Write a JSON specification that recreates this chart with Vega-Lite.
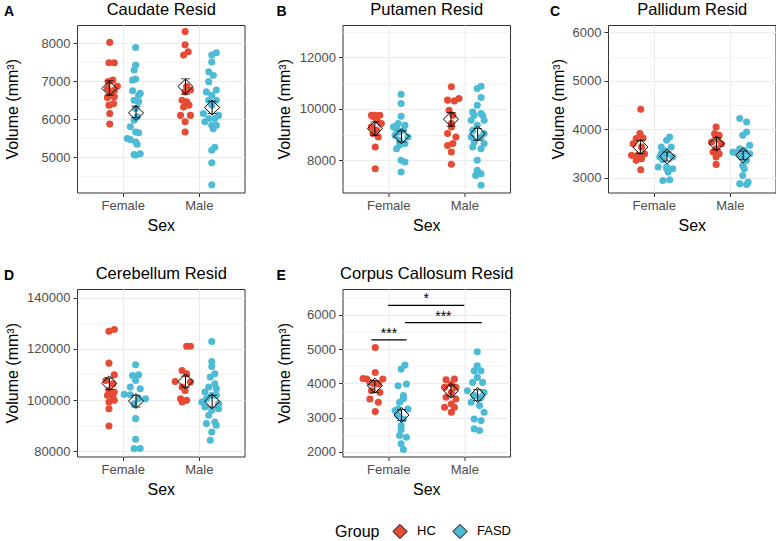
{
"$schema": "https://vega.github.io/schema/vega-lite/v6.json",
"background": "white",
"padding": {"left": 3, "top": 0, "right": 0, "bottom": 0},
"datasets": {
"pts": [
{"p":"A","g":"HC","x":0.83,"v":8025},{"p":"A","g":"HC","x":0.82,"v":7490},{"p":"A","g":"HC","x":0.89,"v":7490},{"p":"A","g":"HC","x":0.87,"v":7030},{"p":"A","g":"HC","x":0.81,"v":6990},{"p":"A","g":"HC","x":0.93,"v":6870},{"p":"A","g":"HC","x":0.80,"v":6810},{"p":"A","g":"HC","x":0.89,"v":6760},{"p":"A","g":"HC","x":0.84,"v":6700},{"p":"A","g":"HC","x":0.80,"v":6570},{"p":"A","g":"HC","x":0.89,"v":6590},{"p":"A","g":"HC","x":0.82,"v":6370},{"p":"A","g":"HC","x":0.88,"v":6410},{"p":"A","g":"HC","x":0.83,"v":6150},{"p":"A","g":"HC","x":0.83,"v":5870},
{"p":"A","g":"FASD","x":1.17,"v":7890},{"p":"A","g":"FASD","x":1.17,"v":7430},{"p":"A","g":"FASD","x":1.15,"v":7295},{"p":"A","g":"FASD","x":1.17,"v":7060},{"p":"A","g":"FASD","x":1.13,"v":7030},{"p":"A","g":"FASD","x":1.13,"v":6750},{"p":"A","g":"FASD","x":1.21,"v":6630},{"p":"A","g":"FASD","x":1.23,"v":6680},{"p":"A","g":"FASD","x":1.15,"v":6500},{"p":"A","g":"FASD","x":1.21,"v":6460},{"p":"A","g":"FASD","x":1.17,"v":6280},{"p":"A","g":"FASD","x":1.19,"v":6060},{"p":"A","g":"FASD","x":1.15,"v":5970},{"p":"A","g":"FASD","x":1.10,"v":5800},{"p":"A","g":"FASD","x":1.17,"v":5660},{"p":"A","g":"FASD","x":1.21,"v":5640},{"p":"A","g":"FASD","x":1.06,"v":5490},{"p":"A","g":"FASD","x":1.10,"v":5460},{"p":"A","g":"FASD","x":1.17,"v":5400},{"p":"A","g":"FASD","x":1.19,"v":5340},{"p":"A","g":"FASD","x":1.15,"v":5070},{"p":"A","g":"FASD","x":1.23,"v":5090},{"p":"A","g":"FASD","x":1.17,"v":5050},
{"p":"A","g":"HC","x":1.82,"v":8310},{"p":"A","g":"HC","x":1.82,"v":7960},{"p":"A","g":"HC","x":1.86,"v":7780},{"p":"A","g":"HC","x":1.80,"v":7690},{"p":"A","g":"HC","x":1.84,"v":6860},{"p":"A","g":"HC","x":1.82,"v":6720},{"p":"A","g":"HC","x":1.89,"v":6770},{"p":"A","g":"HC","x":1.78,"v":6500},{"p":"A","g":"HC","x":1.84,"v":6460},{"p":"A","g":"HC","x":1.80,"v":6320},{"p":"A","g":"HC","x":1.87,"v":6370},{"p":"A","g":"HC","x":1.76,"v":6100},{"p":"A","g":"HC","x":1.89,"v":6100},{"p":"A","g":"HC","x":1.82,"v":5930},{"p":"A","g":"HC","x":1.82,"v":5660},
{"p":"A","g":"FASD","x":2.23,"v":7750},{"p":"A","g":"FASD","x":2.17,"v":7690},{"p":"A","g":"FASD","x":2.17,"v":7510},{"p":"A","g":"FASD","x":2.13,"v":7250},{"p":"A","g":"FASD","x":2.19,"v":7160},{"p":"A","g":"FASD","x":2.13,"v":6990},{"p":"A","g":"FASD","x":2.10,"v":6720},{"p":"A","g":"FASD","x":2.23,"v":6770},{"p":"A","g":"FASD","x":2.17,"v":6630},{"p":"A","g":"FASD","x":2.13,"v":6500},{"p":"A","g":"FASD","x":2.23,"v":6500},{"p":"A","g":"FASD","x":2.17,"v":6370},{"p":"A","g":"FASD","x":2.06,"v":6150},{"p":"A","g":"FASD","x":2.26,"v":6100},{"p":"A","g":"FASD","x":2.08,"v":5930},{"p":"A","g":"FASD","x":2.17,"v":5840},{"p":"A","g":"FASD","x":2.23,"v":5840},{"p":"A","g":"FASD","x":2.13,"v":6020},{"p":"A","g":"FASD","x":2.21,"v":6020},{"p":"A","g":"FASD","x":2.19,"v":5750},{"p":"A","g":"FASD","x":2.21,"v":5260},{"p":"A","g":"FASD","x":2.17,"v":5180},{"p":"A","g":"FASD","x":2.17,"v":4850},{"p":"A","g":"FASD","x":2.17,"v":4270},
{"p":"B","g":"HC","x":0.78,"v":9753},{"p":"B","g":"HC","x":0.83,"v":9753},{"p":"B","g":"HC","x":0.89,"v":9753},{"p":"B","g":"HC","x":0.80,"v":9700},{"p":"B","g":"HC","x":0.85,"v":9560},{"p":"B","g":"HC","x":0.91,"v":9430},{"p":"B","g":"HC","x":0.78,"v":9300},{"p":"B","g":"HC","x":0.85,"v":9170},{"p":"B","g":"HC","x":0.80,"v":9040},{"p":"B","g":"HC","x":0.87,"v":8910},{"p":"B","g":"HC","x":0.83,"v":8520},{"p":"B","g":"HC","x":0.83,"v":7675},
{"p":"B","g":"FASD","x":1.17,"v":10570},{"p":"B","g":"FASD","x":1.17,"v":10210},{"p":"B","g":"FASD","x":1.17,"v":9714},{"p":"B","g":"FASD","x":1.13,"v":9430},{"p":"B","g":"FASD","x":1.22,"v":9360},{"p":"B","g":"FASD","x":1.11,"v":9230},{"p":"B","g":"FASD","x":1.20,"v":9170},{"p":"B","g":"FASD","x":1.09,"v":8970},{"p":"B","g":"FASD","x":1.26,"v":8910},{"p":"B","g":"FASD","x":1.15,"v":8780},{"p":"B","g":"FASD","x":1.22,"v":8650},{"p":"B","g":"FASD","x":1.11,"v":8450},{"p":"B","g":"FASD","x":1.17,"v":8000},{"p":"B","g":"FASD","x":1.22,"v":7935},{"p":"B","g":"FASD","x":1.17,"v":7545},{"p":"B","g":"FASD","x":1.13,"v":9100},{"p":"B","g":"FASD","x":1.07,"v":9300},{"p":"B","g":"FASD","x":1.15,"v":8600},
{"p":"B","g":"HC","x":1.83,"v":10857},{"p":"B","g":"HC","x":1.78,"v":10340},{"p":"B","g":"HC","x":1.87,"v":10310},{"p":"B","g":"HC","x":1.93,"v":10400},{"p":"B","g":"HC","x":1.80,"v":9950},{"p":"B","g":"HC","x":1.85,"v":9750},{"p":"B","g":"HC","x":1.83,"v":9430},{"p":"B","g":"HC","x":1.83,"v":9300},{"p":"B","g":"HC","x":1.78,"v":9040},{"p":"B","g":"HC","x":1.89,"v":8910},{"p":"B","g":"HC","x":1.85,"v":8650},{"p":"B","g":"HC","x":1.78,"v":8580},{"p":"B","g":"HC","x":1.83,"v":8325},{"p":"B","g":"HC","x":1.83,"v":7845},
{"p":"B","g":"FASD","x":2.22,"v":10880},{"p":"B","g":"FASD","x":2.17,"v":10790},{"p":"B","g":"FASD","x":2.22,"v":10440},{"p":"B","g":"FASD","x":2.17,"v":10140},{"p":"B","g":"FASD","x":2.11,"v":9880},{"p":"B","g":"FASD","x":2.22,"v":9820},{"p":"B","g":"FASD","x":2.13,"v":9750},{"p":"B","g":"FASD","x":2.24,"v":9750},{"p":"B","g":"FASD","x":2.09,"v":9560},{"p":"B","g":"FASD","x":2.26,"v":9560},{"p":"B","g":"FASD","x":2.17,"v":9360},{"p":"B","g":"FASD","x":2.11,"v":9170},{"p":"B","g":"FASD","x":2.26,"v":9040},{"p":"B","g":"FASD","x":2.09,"v":8910},{"p":"B","g":"FASD","x":2.22,"v":8910},{"p":"B","g":"FASD","x":2.13,"v":8710},{"p":"B","g":"FASD","x":2.26,"v":8650},{"p":"B","g":"FASD","x":2.11,"v":8520},{"p":"B","g":"FASD","x":2.22,"v":8450},{"p":"B","g":"FASD","x":2.17,"v":8000},{"p":"B","g":"FASD","x":2.17,"v":7610},{"p":"B","g":"FASD","x":2.22,"v":7480},{"p":"B","g":"FASD","x":2.15,"v":7415},{"p":"B","g":"FASD","x":2.22,"v":7030},
{"p":"C","g":"HC","x":0.83,"v":4414},{"p":"C","g":"HC","x":0.82,"v":3910},{"p":"C","g":"HC","x":0.77,"v":3807},{"p":"C","g":"HC","x":0.86,"v":3820},{"p":"C","g":"HC","x":0.73,"v":3703},{"p":"C","g":"HC","x":0.84,"v":3634},{"p":"C","g":"HC","x":0.71,"v":3462},{"p":"C","g":"HC","x":0.79,"v":3462},{"p":"C","g":"HC","x":0.88,"v":3497},{"p":"C","g":"HC","x":0.77,"v":3359},{"p":"C","g":"HC","x":0.84,"v":3393},{"p":"C","g":"HC","x":0.83,"v":3166},
{"p":"C","g":"FASD","x":1.21,"v":3841},{"p":"C","g":"FASD","x":1.17,"v":3772},{"p":"C","g":"FASD","x":1.10,"v":3634},{"p":"C","g":"FASD","x":1.23,"v":3634},{"p":"C","g":"FASD","x":1.17,"v":3497},{"p":"C","g":"FASD","x":1.08,"v":3428},{"p":"C","g":"FASD","x":1.25,"v":3428},{"p":"C","g":"FASD","x":1.12,"v":3372},{"p":"C","g":"FASD","x":1.06,"v":3221},{"p":"C","g":"FASD","x":1.17,"v":3186},{"p":"C","g":"FASD","x":1.25,"v":3186},{"p":"C","g":"FASD","x":1.19,"v":3117},{"p":"C","g":"FASD","x":1.12,"v":2945},{"p":"C","g":"FASD","x":1.21,"v":2960},{"p":"C","g":"FASD","x":1.17,"v":3220},{"p":"C","g":"FASD","x":1.14,"v":3560},{"p":"C","g":"FASD","x":1.10,"v":3500},
{"p":"C","g":"HC","x":1.82,"v":4048},{"p":"C","g":"HC","x":1.80,"v":3910},{"p":"C","g":"HC","x":1.86,"v":3876},{"p":"C","g":"HC","x":1.76,"v":3738},{"p":"C","g":"HC","x":1.89,"v":3703},{"p":"C","g":"HC","x":1.82,"v":3600},{"p":"C","g":"HC","x":1.78,"v":3531},{"p":"C","g":"HC","x":1.86,"v":3497},{"p":"C","g":"HC","x":1.82,"v":3428},{"p":"C","g":"HC","x":1.82,"v":3276},{"p":"C","g":"HC","x":1.84,"v":3800},
{"p":"C","g":"FASD","x":2.13,"v":4221},{"p":"C","g":"FASD","x":2.22,"v":4152},{"p":"C","g":"FASD","x":2.22,"v":3945},{"p":"C","g":"FASD","x":2.17,"v":3876},{"p":"C","g":"FASD","x":2.26,"v":3669},{"p":"C","g":"FASD","x":2.13,"v":3600},{"p":"C","g":"FASD","x":2.04,"v":3531},{"p":"C","g":"FASD","x":2.26,"v":3497},{"p":"C","g":"FASD","x":2.13,"v":3462},{"p":"C","g":"FASD","x":2.17,"v":3428},{"p":"C","g":"FASD","x":2.22,"v":3359},{"p":"C","g":"FASD","x":2.17,"v":3255},{"p":"C","g":"FASD","x":2.19,"v":3186},{"p":"C","g":"FASD","x":2.17,"v":3048},{"p":"C","g":"FASD","x":2.13,"v":2876},{"p":"C","g":"FASD","x":2.22,"v":2862},{"p":"C","g":"FASD","x":2.24,"v":2910},{"p":"C","g":"FASD","x":2.09,"v":3520},{"p":"C","g":"FASD","x":2.19,"v":3560},
{"p":"D","g":"HC","x":0.82,"v":126890},{"p":"D","g":"HC","x":0.89,"v":127540},{"p":"D","g":"HC","x":0.82,"v":114420},{"p":"D","g":"HC","x":0.89,"v":109870},{"p":"D","g":"HC","x":0.78,"v":107660},{"p":"D","g":"HC","x":0.87,"v":106370},{"p":"D","g":"HC","x":0.82,"v":103770},{"p":"D","g":"HC","x":0.89,"v":103120},{"p":"D","g":"HC","x":0.80,"v":101820},{"p":"D","g":"HC","x":0.87,"v":101170},{"p":"D","g":"HC","x":0.82,"v":99220},{"p":"D","g":"HC","x":0.89,"v":99870},{"p":"D","g":"HC","x":0.82,"v":96620},{"p":"D","g":"HC","x":0.82,"v":89870},
{"p":"D","g":"FASD","x":1.17,"v":113770},{"p":"D","g":"FASD","x":1.13,"v":109610},{"p":"D","g":"FASD","x":1.21,"v":109870},{"p":"D","g":"FASD","x":1.17,"v":107660},{"p":"D","g":"FASD","x":1.10,"v":105070},{"p":"D","g":"FASD","x":1.23,"v":104420},{"p":"D","g":"FASD","x":1.02,"v":102210},{"p":"D","g":"FASD","x":1.10,"v":102080},{"p":"D","g":"FASD","x":1.21,"v":100520},{"p":"D","g":"FASD","x":1.30,"v":100520},{"p":"D","g":"FASD","x":1.15,"v":98570},{"p":"D","g":"FASD","x":1.17,"v":92730},{"p":"D","g":"FASD","x":1.17,"v":84670},{"p":"D","g":"FASD","x":1.15,"v":81030},{"p":"D","g":"FASD","x":1.23,"v":81030},
{"p":"D","g":"HC","x":1.84,"v":121040},{"p":"D","g":"HC","x":1.89,"v":121040},{"p":"D","g":"HC","x":1.78,"v":111560},{"p":"D","g":"HC","x":1.84,"v":110260},{"p":"D","g":"HC","x":1.69,"v":107270},{"p":"D","g":"HC","x":1.89,"v":107010},{"p":"D","g":"HC","x":1.78,"v":105070},{"p":"D","g":"HC","x":1.82,"v":103770},{"p":"D","g":"HC","x":1.76,"v":100520},{"p":"D","g":"HC","x":1.84,"v":99870},{"p":"D","g":"HC","x":1.78,"v":99220},
{"p":"D","g":"FASD","x":2.17,"v":122860},{"p":"D","g":"FASD","x":2.17,"v":115070},{"p":"D","g":"FASD","x":2.17,"v":113120},{"p":"D","g":"FASD","x":2.21,"v":110260},{"p":"D","g":"FASD","x":2.15,"v":108960},{"p":"D","g":"FASD","x":2.21,"v":106370},{"p":"D","g":"FASD","x":2.13,"v":105070},{"p":"D","g":"FASD","x":2.23,"v":104420},{"p":"D","g":"FASD","x":2.08,"v":103120},{"p":"D","g":"FASD","x":2.17,"v":101820},{"p":"D","g":"FASD","x":2.23,"v":101820},{"p":"D","g":"FASD","x":2.10,"v":100520},{"p":"D","g":"FASD","x":2.04,"v":99220},{"p":"D","g":"FASD","x":2.26,"v":98570},{"p":"D","g":"FASD","x":2.08,"v":97270},{"p":"D","g":"FASD","x":2.17,"v":95970},{"p":"D","g":"FASD","x":2.26,"v":96620},{"p":"D","g":"FASD","x":2.13,"v":94020},{"p":"D","g":"FASD","x":2.21,"v":91430},{"p":"D","g":"FASD","x":2.10,"v":90780},{"p":"D","g":"FASD","x":2.23,"v":90130},{"p":"D","g":"FASD","x":2.17,"v":87530},{"p":"D","g":"FASD","x":2.15,"v":84280},
{"p":"E","g":"HC","x":0.83,"v":5050},{"p":"E","g":"HC","x":0.83,"v":4320},{"p":"E","g":"HC","x":0.67,"v":4145},{"p":"E","g":"HC","x":0.93,"v":4126},{"p":"E","g":"HC","x":0.76,"v":4030},{"p":"E","g":"HC","x":0.87,"v":3980},{"p":"E","g":"HC","x":0.78,"v":3786},{"p":"E","g":"HC","x":0.89,"v":3738},{"p":"E","g":"HC","x":0.76,"v":3544},{"p":"E","g":"HC","x":0.87,"v":3447},{"p":"E","g":"HC","x":0.83,"v":3175},{"p":"E","g":"HC","x":0.72,"v":4130},{"p":"E","g":"HC","x":0.80,"v":4000},
{"p":"E","g":"FASD","x":1.22,"v":4534},{"p":"E","g":"FASD","x":1.17,"v":4417},{"p":"E","g":"FASD","x":1.24,"v":3980},{"p":"E","g":"FASD","x":1.13,"v":3932},{"p":"E","g":"FASD","x":1.20,"v":3641},{"p":"E","g":"FASD","x":1.15,"v":3447},{"p":"E","g":"FASD","x":1.13,"v":3252},{"p":"E","g":"FASD","x":1.26,"v":3252},{"p":"E","g":"FASD","x":1.20,"v":2961},{"p":"E","g":"FASD","x":1.17,"v":2767},{"p":"E","g":"FASD","x":1.15,"v":2476},{"p":"E","g":"FASD","x":1.24,"v":2427},{"p":"E","g":"FASD","x":1.17,"v":2233},{"p":"E","g":"FASD","x":1.20,"v":2068},{"p":"E","g":"FASD","x":1.13,"v":3058},{"p":"E","g":"FASD","x":1.09,"v":3204},{"p":"E","g":"FASD","x":1.20,"v":3550},{"p":"E","g":"FASD","x":1.17,"v":2650},
{"p":"E","g":"HC","x":1.76,"v":4107},{"p":"E","g":"HC","x":1.87,"v":4126},{"p":"E","g":"HC","x":1.83,"v":3980},{"p":"E","g":"HC","x":1.74,"v":3884},{"p":"E","g":"HC","x":1.89,"v":3884},{"p":"E","g":"HC","x":1.83,"v":3738},{"p":"E","g":"HC","x":1.76,"v":3592},{"p":"E","g":"HC","x":1.89,"v":3544},{"p":"E","g":"HC","x":1.83,"v":3398},{"p":"E","g":"HC","x":1.74,"v":3301},{"p":"E","g":"HC","x":1.83,"v":3155},{"p":"E","g":"HC","x":1.87,"v":3301},
{"p":"E","g":"FASD","x":2.17,"v":4922},{"p":"E","g":"FASD","x":2.17,"v":4515},{"p":"E","g":"FASD","x":2.13,"v":4369},{"p":"E","g":"FASD","x":2.22,"v":4369},{"p":"E","g":"FASD","x":2.17,"v":4175},{"p":"E","g":"FASD","x":2.11,"v":4029},{"p":"E","g":"FASD","x":2.24,"v":4029},{"p":"E","g":"FASD","x":2.04,"v":3786},{"p":"E","g":"FASD","x":2.26,"v":3738},{"p":"E","g":"FASD","x":2.13,"v":3641},{"p":"E","g":"FASD","x":2.22,"v":3592},{"p":"E","g":"FASD","x":2.09,"v":3447},{"p":"E","g":"FASD","x":2.20,"v":3350},{"p":"E","g":"FASD","x":2.26,"v":3155},{"p":"E","g":"FASD","x":2.13,"v":2961},{"p":"E","g":"FASD","x":2.22,"v":2913},{"p":"E","g":"FASD","x":2.13,"v":2670},{"p":"E","g":"FASD","x":2.20,"v":2621}
],
"sum": [
{"p":"A","g":"HC","x":0.825,"m":6810,"lo":6633,"hi":7012},{"p":"A","g":"FASD","x":1.175,"m":6165,"lo":6042,"hi":6342},{"p":"A","g":"HC","x":1.825,"m":6860,"lo":6660,"hi":7065},{"p":"A","g":"FASD","x":2.175,"m":6307,"lo":6148,"hi":6474},
{"p":"B","g":"HC","x":0.825,"m":9234,"lo":8974,"hi":9494},{"p":"B","g":"FASD","x":1.175,"m":8935,"lo":8714,"hi":9143},{"p":"B","g":"HC","x":1.825,"m":9600,"lo":9325,"hi":9857},{"p":"B","g":"FASD","x":2.175,"m":9040,"lo":8780,"hi":9234},
{"p":"C","g":"HC","x":0.825,"m":3634,"lo":3497,"hi":3772},{"p":"C","g":"FASD","x":1.175,"m":3441,"lo":3345,"hi":3531},{"p":"C","g":"HC","x":1.825,"m":3703,"lo":3579,"hi":3828},{"p":"C","g":"FASD","x":2.175,"m":3462,"lo":3372,"hi":3552},
{"p":"D","g":"HC","x":0.825,"m":106500,"lo":104160,"hi":108570},{"p":"D","g":"FASD","x":1.175,"m":99610,"lo":97270,"hi":101820},{"p":"D","g":"HC","x":1.825,"m":107270,"lo":105070,"hi":109350},{"p":"D","g":"FASD","x":2.175,"m":99480,"lo":97270,"hi":101820},
{"p":"E","g":"HC","x":0.825,"m":3932,"lo":3738,"hi":4078},{"p":"E","g":"FASD","x":1.175,"m":3078,"lo":2913,"hi":3233},{"p":"E","g":"HC","x":1.825,"m":3786,"lo":3621,"hi":3951},{"p":"E","g":"FASD","x":2.175,"m":3660,"lo":3495,"hi":3816}
],
"sig": [
{"x":0.78,"x2":1.24,"xm":1.01,"y":5272,"lab":"***"},
{"x":1.0,"x2":2.0,"xm":1.5,"y":6282,"lab":"*"},
{"x":1.22,"x2":2.23,"xm":1.725,"y":5777,"lab":"***"}
]
},
"columns": 3,
"bounds": "flush",
"spacing": {"row": 96, "column": 97.5},
"resolve": {"scale": {"color": "shared", "x": "independent", "y": "independent"}, "legend": {"color": "shared"}},
"concat": [
{"width": 167.5, "height": 167.5, "title": {"text": "A"}, "resolve": {"axis": {"x": "independent", "y": "independent"}},
 "layer": [
  {"data": {"name": "pts"}, "transform": [{"filter": "datum.p === 'A'"}], "mark": {"type": "circle", "size": 50, "opacity": 1},
   "encoding": {
    "x": {"field": "x", "type": "quantitative", "scale": {"domain": [0.4, 2.6], "nice": false, "zero": false}, "axis": {"orient": "bottom", "title": "Sex", "values": [1, 2], "labelExpr": "datum.value === 1 ? 'Female' : 'Male'", "grid": true}},
    "y": {"field": "v", "type": "quantitative", "scale": {"domain": [4066, 8484], "nice": false, "zero": false}, "axis": {"title": "Volume (mm³)", "values": [5000,6000,7000,8000], "format": "d", "minExtent": 52}},
    "color": {"field": "g", "type": "nominal", "scale": {"domain": ["HC", "FASD"], "range": ["#E64B35", "#4DBBD5"]},
     "legend": {"title": "Group", "orient": "none", "legendX": 258, "legendY": 498, "padding": 0, "direction": "horizontal", "titleOrient": "left", "symbolType": "diamond", "symbolSize": 200, "symbolStrokeColor": "black", "symbolStrokeWidth": 1, "columnPadding": 14, "labelOffset": 9, "titlePadding": 12,
      "encode": {"symbols": {"update": {"stroke": {"value": "black"}, "strokeWidth": {"value": 1}}}}}}
   }},
  {"data": {"name": "sum"}, "transform": [{"filter": "datum.p === 'A'"}], "mark": {"type": "rule", "color": "black", "strokeWidth": 1},
   "encoding": {"x": {"field": "x", "type": "quantitative", "axis": null}, "y": {"field": "lo", "type": "quantitative", "axis": {"orient": "right", "values": [4500,5500,6500,7500], "grid": true, "gridWidth": 0.5, "labels": false, "ticks": false, "domain": false, "title": null}}, "y2": {"field": "hi"}}},
  {"data": {"name": "sum"}, "transform": [{"filter": "datum.p === 'A'"}], "mark": {"type": "tick", "orient": "horizontal", "size": 9, "thickness": 1, "color": "black"},
   "encoding": {"x": {"field": "x", "type": "quantitative", "axis": null}, "y": {"field": "lo", "type": "quantitative", "axis": null}}},
  {"data": {"name": "sum"}, "transform": [{"filter": "datum.p === 'A'"}], "mark": {"type": "tick", "orient": "horizontal", "size": 9, "thickness": 1, "color": "black"},
   "encoding": {"x": {"field": "x", "type": "quantitative", "axis": null}, "y": {"field": "hi", "type": "quantitative", "axis": null}}},
  {"data": {"name": "sum"}, "transform": [{"filter": "datum.p === 'A'"}], "mark": {"type": "point", "shape": "diamond", "size": 225, "filled": false, "stroke": "black", "strokeWidth": 1, "opacity": 1},
   "encoding": {"x": {"field": "x", "type": "quantitative", "axis": {"orient": "top", "title": "Caudate Resid", "labels": false, "ticks": false, "domain": false, "grid": false, "titlePadding": 8, "titleFontSize": 16.5}}, "y": {"field": "m", "type": "quantitative", "axis": null}}}
 ]},
{"width": 167.5, "height": 167.5, "title": {"text": "B"}, "resolve": {"axis": {"x": "independent", "y": "independent"}},
 "layer": [
  {"data": {"name": "pts"}, "transform": [{"filter": "datum.p === 'B'"}], "mark": {"type": "circle", "size": 50, "opacity": 1},
   "encoding": {
    "x": {"field": "x", "type": "quantitative", "scale": {"domain": [0.4, 2.6], "nice": false, "zero": false}, "axis": {"orient": "bottom", "title": "Sex", "values": [1, 2], "labelExpr": "datum.value === 1 ? 'Female' : 'Male'", "grid": true}},
    "y": {"field": "v", "type": "quantitative", "scale": {"domain": [6750, 13260], "nice": false, "zero": false}, "axis": {"title": "Volume (mm³)", "values": [8000,10000,12000], "format": "d", "minExtent": 45}},
    "color": {"field": "g", "type": "nominal", "scale": {"domain": ["HC", "FASD"], "range": ["#E64B35", "#4DBBD5"]}}
   }},
  {"data": {"name": "sum"}, "transform": [{"filter": "datum.p === 'B'"}], "mark": {"type": "rule", "color": "black", "strokeWidth": 1},
   "encoding": {"x": {"field": "x", "type": "quantitative", "axis": null}, "y": {"field": "lo", "type": "quantitative", "axis": {"orient": "right", "values": [7000,9000,11000,13000], "grid": true, "gridWidth": 0.5, "labels": false, "ticks": false, "domain": false, "title": null}}, "y2": {"field": "hi"}}},
  {"data": {"name": "sum"}, "transform": [{"filter": "datum.p === 'B'"}], "mark": {"type": "tick", "orient": "horizontal", "size": 9, "thickness": 1, "color": "black"},
   "encoding": {"x": {"field": "x", "type": "quantitative", "axis": null}, "y": {"field": "lo", "type": "quantitative", "axis": null}}},
  {"data": {"name": "sum"}, "transform": [{"filter": "datum.p === 'B'"}], "mark": {"type": "tick", "orient": "horizontal", "size": 9, "thickness": 1, "color": "black"},
   "encoding": {"x": {"field": "x", "type": "quantitative", "axis": null}, "y": {"field": "hi", "type": "quantitative", "axis": null}}},
  {"data": {"name": "sum"}, "transform": [{"filter": "datum.p === 'B'"}], "mark": {"type": "point", "shape": "diamond", "size": 225, "filled": false, "stroke": "black", "strokeWidth": 1, "opacity": 1},
   "encoding": {"x": {"field": "x", "type": "quantitative", "axis": {"orient": "top", "title": "Putamen Resid", "labels": false, "ticks": false, "domain": false, "grid": false, "titlePadding": 8, "titleFontSize": 16.5}}, "y": {"field": "m", "type": "quantitative", "axis": null}}}
 ]},
{"width": 167.5, "height": 167.5, "title": {"text": "C"}, "resolve": {"axis": {"x": "independent", "y": "independent"}},
 "layer": [
  {"data": {"name": "pts"}, "transform": [{"filter": "datum.p === 'C'"}], "mark": {"type": "circle", "size": 50, "opacity": 1},
   "encoding": {
    "x": {"field": "x", "type": "quantitative", "scale": {"domain": [0.4, 2.6], "nice": false, "zero": false}, "axis": {"orient": "bottom", "title": "Sex", "values": [1, 2], "labelExpr": "datum.value === 1 ? 'Female' : 'Male'", "grid": true}},
    "y": {"field": "v", "type": "quantitative", "scale": {"domain": [2696, 6151], "nice": false, "zero": false}, "axis": {"title": "Volume (mm³)", "values": [3000,4000,5000,6000], "format": "d", "minExtent": 37}},
    "color": {"field": "g", "type": "nominal", "scale": {"domain": ["HC", "FASD"], "range": ["#E64B35", "#4DBBD5"]}}
   }},
  {"data": {"name": "sum"}, "transform": [{"filter": "datum.p === 'C'"}], "mark": {"type": "rule", "color": "black", "strokeWidth": 1},
   "encoding": {"x": {"field": "x", "type": "quantitative", "axis": null}, "y": {"field": "lo", "type": "quantitative", "axis": {"orient": "right", "values": [3500,4500,5500], "grid": true, "gridWidth": 0.5, "labels": false, "ticks": false, "domain": false, "title": null}}, "y2": {"field": "hi"}}},
  {"data": {"name": "sum"}, "transform": [{"filter": "datum.p === 'C'"}], "mark": {"type": "tick", "orient": "horizontal", "size": 9, "thickness": 1, "color": "black"},
   "encoding": {"x": {"field": "x", "type": "quantitative", "axis": null}, "y": {"field": "lo", "type": "quantitative", "axis": null}}},
  {"data": {"name": "sum"}, "transform": [{"filter": "datum.p === 'C'"}], "mark": {"type": "tick", "orient": "horizontal", "size": 9, "thickness": 1, "color": "black"},
   "encoding": {"x": {"field": "x", "type": "quantitative", "axis": null}, "y": {"field": "hi", "type": "quantitative", "axis": null}}},
  {"data": {"name": "sum"}, "transform": [{"filter": "datum.p === 'C'"}], "mark": {"type": "point", "shape": "diamond", "size": 225, "filled": false, "stroke": "black", "strokeWidth": 1, "opacity": 1},
   "encoding": {"x": {"field": "x", "type": "quantitative", "axis": {"orient": "top", "title": "Pallidum Resid", "labels": false, "ticks": false, "domain": false, "grid": false, "titlePadding": 8, "titleFontSize": 16.5}}, "y": {"field": "m", "type": "quantitative", "axis": null}}}
 ]},
{"width": 167.5, "height": 167.5, "title": {"text": "D"}, "resolve": {"axis": {"x": "independent", "y": "independent"}},
 "layer": [
  {"data": {"name": "pts"}, "transform": [{"filter": "datum.p === 'D'"}], "mark": {"type": "circle", "size": 50, "opacity": 1},
   "encoding": {
    "x": {"field": "x", "type": "quantitative", "scale": {"domain": [0.4, 2.6], "nice": false, "zero": false}, "axis": {"orient": "bottom", "title": "Sex", "values": [1, 2], "labelExpr": "datum.value === 1 ? 'Female' : 'Male'", "grid": true}},
    "y": {"field": "v", "type": "quantitative", "scale": {"domain": [77930, 143390], "nice": false, "zero": false}, "axis": {"title": "Volume (mm³)", "values": [80000,100000,120000,140000], "format": "d", "minExtent": 52}},
    "color": {"field": "g", "type": "nominal", "scale": {"domain": ["HC", "FASD"], "range": ["#E64B35", "#4DBBD5"]}}
   }},
  {"data": {"name": "sum"}, "transform": [{"filter": "datum.p === 'D'"}], "mark": {"type": "rule", "color": "black", "strokeWidth": 1},
   "encoding": {"x": {"field": "x", "type": "quantitative", "axis": null}, "y": {"field": "lo", "type": "quantitative", "axis": {"orient": "right", "values": [90000,110000,130000], "grid": true, "gridWidth": 0.5, "labels": false, "ticks": false, "domain": false, "title": null}}, "y2": {"field": "hi"}}},
  {"data": {"name": "sum"}, "transform": [{"filter": "datum.p === 'D'"}], "mark": {"type": "tick", "orient": "horizontal", "size": 9, "thickness": 1, "color": "black"},
   "encoding": {"x": {"field": "x", "type": "quantitative", "axis": null}, "y": {"field": "lo", "type": "quantitative", "axis": null}}},
  {"data": {"name": "sum"}, "transform": [{"filter": "datum.p === 'D'"}], "mark": {"type": "tick", "orient": "horizontal", "size": 9, "thickness": 1, "color": "black"},
   "encoding": {"x": {"field": "x", "type": "quantitative", "axis": null}, "y": {"field": "hi", "type": "quantitative", "axis": null}}},
  {"data": {"name": "sum"}, "transform": [{"filter": "datum.p === 'D'"}], "mark": {"type": "point", "shape": "diamond", "size": 225, "filled": false, "stroke": "black", "strokeWidth": 1, "opacity": 1},
   "encoding": {"x": {"field": "x", "type": "quantitative", "axis": {"orient": "top", "title": "Cerebellum Resid", "labels": false, "ticks": false, "domain": false, "grid": false, "titlePadding": 8, "titleFontSize": 16.5}}, "y": {"field": "m", "type": "quantitative", "axis": null}}}
 ]},
{"width": 167.5, "height": 167.5, "title": {"text": "E"}, "resolve": {"axis": {"x": "independent", "y": "independent"}},
 "layer": [
  {"data": {"name": "pts"}, "transform": [{"filter": "datum.p === 'E'"}], "mark": {"type": "circle", "size": 50, "opacity": 1},
   "encoding": {
    "x": {"field": "x", "type": "quantitative", "scale": {"domain": [0.4, 2.6], "nice": false, "zero": false}, "axis": {"orient": "bottom", "title": "Sex", "values": [1, 2], "labelExpr": "datum.value === 1 ? 'Female' : 'Male'", "grid": true}},
    "y": {"field": "v", "type": "quantitative", "scale": {"domain": [1863, 6758], "nice": false, "zero": false}, "axis": {"title": "Volume (mm³)", "values": [2000,3000,4000,5000,6000], "format": "d", "minExtent": 45}},
    "color": {"field": "g", "type": "nominal", "scale": {"domain": ["HC", "FASD"], "range": ["#E64B35", "#4DBBD5"]}}
   }},
  {"data": {"name": "sum"}, "transform": [{"filter": "datum.p === 'E'"}], "mark": {"type": "rule", "color": "black", "strokeWidth": 1},
   "encoding": {"x": {"field": "x", "type": "quantitative", "axis": null}, "y": {"field": "lo", "type": "quantitative", "axis": {"orient": "right", "values": [2500,3500,4500,5500,6500], "grid": true, "gridWidth": 0.5, "labels": false, "ticks": false, "domain": false, "title": null}}, "y2": {"field": "hi"}}},
  {"data": {"name": "sum"}, "transform": [{"filter": "datum.p === 'E'"}], "mark": {"type": "tick", "orient": "horizontal", "size": 9, "thickness": 1, "color": "black"},
   "encoding": {"x": {"field": "x", "type": "quantitative", "axis": null}, "y": {"field": "lo", "type": "quantitative", "axis": null}}},
  {"data": {"name": "sum"}, "transform": [{"filter": "datum.p === 'E'"}], "mark": {"type": "tick", "orient": "horizontal", "size": 9, "thickness": 1, "color": "black"},
   "encoding": {"x": {"field": "x", "type": "quantitative", "axis": null}, "y": {"field": "hi", "type": "quantitative", "axis": null}}},
  {"data": {"name": "sum"}, "transform": [{"filter": "datum.p === 'E'"}], "mark": {"type": "point", "shape": "diamond", "size": 225, "filled": false, "stroke": "black", "strokeWidth": 1, "opacity": 1},
   "encoding": {"x": {"field": "x", "type": "quantitative", "axis": {"orient": "top", "title": "Corpus Callosum Resid", "labels": false, "ticks": false, "domain": false, "grid": false, "titlePadding": 8, "titleFontSize": 16.5}}, "y": {"field": "m", "type": "quantitative", "axis": null}}},
  {"data": {"name": "sig"}, "mark": {"type": "rule", "color": "black", "strokeWidth": 1.2},
   "encoding": {"x": {"field": "x", "type": "quantitative", "axis": null}, "x2": {"field": "x2"}, "y": {"field": "y", "type": "quantitative", "axis": null}}},
  {"data": {"name": "sig"}, "mark": {"type": "text", "fontSize": 14, "baseline": "alphabetic", "dy": -2, "color": "black"},
   "encoding": {"x": {"field": "xm", "type": "quantitative", "axis": null}, "y": {"field": "y", "type": "quantitative", "axis": null}, "text": {"field": "lab"}}}
 ]}
],
"config": {
 "font": "Liberation Sans",
 "view": {"stroke": "#333333", "strokeWidth": 1},
 "axis": {"domain": false, "tickColor": "#333333", "tickSize": 4, "labelColor": "#4D4D4D", "labelFontSize": 13, "labelPadding": 3, "labelOverlap": false, "titleFontSize": 16, "titleFontWeight": "normal", "titleColor": "black", "titlePadding": 5, "gridColor": "#EBEBEB", "gridWidth": 1},
 "title": {"anchor": "start", "frame": "bounds", "fontSize": 14, "fontWeight": "bold", "color": "black", "offset": -18},
 "legend": {"titleFontSize": 16, "titleFontWeight": "normal", "titleColor": "black", "labelFontSize": 13, "labelColor": "black"}
}
}
